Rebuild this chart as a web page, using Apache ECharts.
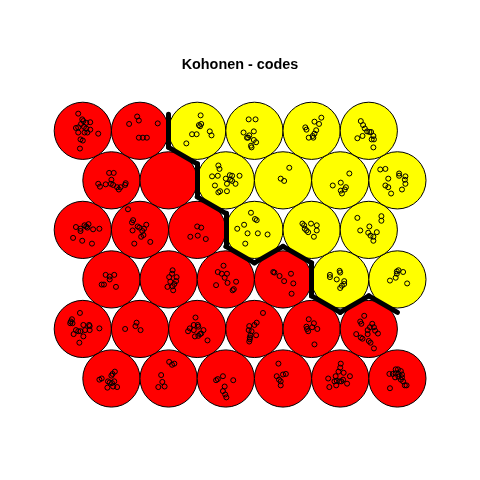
<!DOCTYPE html>
<html><head><meta charset="utf-8">
<script src="https://cdn.jsdelivr.net/npm/echarts@6/dist/echarts.min.js"></script>
<style>html,body{margin:0;padding:0;background:#fff}#c{width:480px;height:480px}</style>
</head><body><div id="c"></div>
<script>
const chartTitle = 'Kohonen - codes';
const xdim = 6, ydim = 6;
// cluster of each unit; rows listed from bottom (row 1) to top (row 6), columns left to right
const clusterRow1 = [1,1,1,1,1,1];
const clusterRow2 = [1,1,1,1,1,1];
const clusterRow3 = [1,1,1,1,2,2];
const clusterRow4 = [1,1,1,2,2,2];
const clusterRow5 = [1,1,2,2,2,2];
const clusterRow6 = [1,1,2,2,2,2];
const clusterColors = ['#FF0000', '#FFFF00'];

// mapped objects per unit: [dx, dy] jitter from the unit centre (grid units)
const mappedRow6 = [
  [[-0.08,0.30],[-0.01,0.20],[0.01,0.17],[0.06,0.14],[0.13,0.15],[-0.03,0.12],[-0.12,0.05],[-0.08,0.06],[0.02,0.07],[0.06,0.04],[0.13,0.02],[-0.08,-0.03],[0.03,-0.03],[0.08,-0.03],[0.27,-0.05],[-0.04,-0.15],[0,-0.17],[-0.05,-0.31]],
  [[-0.05,0.25],[-0.02,0.18],[-0.19,0.12],[0.31,0.13],[-0.02,-0.12],[0.05,-0.12],[0.12,-0.12]],
  [[0.06,0.27],[0.03,0.10],[0.07,0.12],[0.05,0.08],[-0.09,-0.06],[-0.01,-0.06],[0.22,-0.01],[0.25,-0.08],[-0.19,-0.22]],
  [[-0.10,0.20],[0.02,0.20],[-0.19,-0.03],[-0.01,-0.01],[-0.09,-0.08],[-0.13,-0.12],[-0.11,-0.12],[-0.01,-0.16],[0.03,-0.20],[-0.06,-0.26],[-0.05,-0.29]],
  [[0.17,0.23],[0.05,0.16],[0.13,0.12],[-0.11,0.06],[-0.09,0.02],[0.08,0.01],[0.05,-0.05],[0.02,-0.09],[-0.05,-0.12],[0.03,-0.12]],
  [[-0.14,0.17],[-0.10,0.10],[-0.07,0.04],[-0.03,-0.01],[0.01,-0.02],[0.04,-0.02],[-0.11,-0.09],[-0.20,-0.13],[0.08,-0.09],[0.05,-0.15],[0.09,-0.15],[0.08,-0.29]]
];
const mappedRow5 = [
  [[-0.04,0.13],[0.04,0.13],[0,0.01],[-0.23,-0.06],[-0.20,-0.11],[-0.10,-0.07],[-0.01,-0.06],[0.03,-0.08],[0.10,-0.12],[0.13,-0.16],[0.16,-0.12],[0.25,-0.05],[0.24,-0.08]],
  [],
  [[-0.13,0.26],[-0.11,0.20],[-0.24,0.07],[-0.14,0.08],[0.07,0.09],[0.11,0.08],[0,0.03],[0.08,0.01],[0.11,-0.01],[0.24,0.08],[0.02,-0.06],[0.17,-0.06],[-0.19,-0.09],[-0.10,-0.19],[-0.13,-0.21],[0.02,-0.19]],
  [[0.11,0.22],[-0.04,0.03],[0.02,-0.01]],
  [[0.16,0.12],[0.01,-0.04],[-0.13,-0.09],[0.10,-0.12],[0.08,-0.16],[0.01,-0.18],[0.03,-0.23]],
  [[-0.30,0.19],[-0.21,0.20],[0.03,0.12],[0.03,0.08],[0.14,0.07],[0.13,0.01],[0.14,-0.06],[-0.16,0.03],[-0.21,-0.09],[-0.16,-0.12],[-0.11,-0.23],[0.08,-0.16]]
];
const mappedRow4 = [
  [[-0.12,0.05],[-0.04,0.02],[-0.04,-0.02],[0.03,0.08],[0.06,0.06],[0.10,0.10],[0.08,0.04],[0.18,0.01],[0.29,0.02],[-0.17,-0.14],[-0.01,-0.19],[0.16,-0.24]],
  [[-0.21,0.36],[-0.12,0.17],[-0.14,0.13],[-0.04,0.06],[-0.01,0.04],[0.11,0.09],[-0.13,-0.01],[0.04,-0.02],[0.07,0.02],[0.06,-0.09],[0.02,-0.12],[-0.10,-0.24],[0.18,-0.21]],
  [[0,0.06],[0.07,0.04],[0.01,-0.10],[-0.12,-0.12],[0.15,-0.16]],
  [[-0.06,0.30],[0.01,0.19],[0.04,0.17],[-0.18,0.09],[-0.30,0.02],[-0.12,-0.06],[0.06,-0.06],[0.23,-0.08],[-0.16,-0.24]],
  [[-0.16,0.11],[-0.13,0.08],[-0.12,0.02],[-0.09,-0.01],[-0.06,-0.04],[-0.01,0.11],[0.09,0.08],[0.09,-0.01],[0.04,-0.12]],
  [[-0.20,0.21],[0.22,0.24],[0.22,0.16],[0.01,0.06],[-0.15,-0.01],[-0.01,-0.05],[0.03,-0.10],[0.08,-0.12],[0.08,-0.19],[0.14,-0.04]]
];
const mappedRow3 = [
  [[-0.10,0.08],[-0.03,0.05],[0.05,0.08],[-0.03,0],[-0.17,-0.09],[-0.13,-0.09],[0.08,-0.13]],
  [[0.07,0.16],[0.06,0.10],[0.01,0.04],[0.14,0.04],[0.03,-0.04],[0.13,-0.03],[0.10,-0.08],[-0.02,-0.13],[0.07,-0.12],[0.08,-0.19]],
  [[-0.04,0.24],[-0.14,0.13],[-0.07,0.10],[0.02,0.10],[-0.02,0.03],[0.03,-0.06],[0.18,-0.04],[-0.17,-0.10],[0.14,-0.17],[0.12,-0.19]],
  [[-0.17,0.13],[-0.15,0.12],[-0.06,0.06],[0.02,-0.03],[0.14,0.10],[0.18,-0.07],[0.15,-0.25]],
  [[-0.18,0.08],[-0.18,0.04],[-0.01,0.15],[0,0.12],[-0.06,0],[0.07,-0.03],[0.07,-0.08],[0.03,-0.11],[0,-0.15]],
  [[-0.01,0.14],[0.02,0.16],[0.10,0.13],[-0.01,0.10],[-0.03,0.03],[-0.13,-0.02],[0.17,-0.07]]
];
const mappedRow2 = [
  [[-0.05,0.28],[-0.19,0.17],[-0.21,0.13],[-0.22,0.10],[-0.18,0.10],[0.01,0.07],[0.11,0.07],[0.12,0.05],[-0.12,-0.02],[-0.08,-0.04],[-0.04,-0.04],[0.04,-0.02],[0.12,-0.02],[-0.16,-0.09],[0.01,-0.13],[0.29,0.01],[-0.06,-0.24]],
  [[-0.06,0.11],[-0.08,0.05],[-0.26,0],[0.01,-0.02]],
  [[-0.03,0.20],[-0.06,0.07],[0.01,0.07],[0.02,0.04],[-0.13,0.01],[-0.16,-0.04],[-0.06,-0.02],[0.11,-0.02],[0.05,-0.09],[0.07,-0.08],[-0.04,-0.13],[0.02,-0.12],[0.18,-0.20]],
  [[0.15,0.28],[0.04,0.11],[0,0.07],[-0.09,0.05],[-0.10,-0.02],[-0.05,-0.04],[0.03,-0.11],[-0.07,-0.11],[-0.08,-0.15],[-0.08,-0.18],[-0.09,-0.22]],
  [[-0.05,0.17],[0.04,0.10],[-0.09,0.04],[-0.08,0],[-0.06,-0.04],[0.01,0.03],[0.10,0],[0.05,-0.27]],
  [[-0.08,0.23],[-0.15,0.13],[-0.13,0.09],[0.06,0.09],[0.02,0.03],[0.09,0.03],[0.11,-0.03],[0.16,-0.08],[-0.02,-0.02],[-0.22,-0.09],[-0.14,-0.15],[-0.11,-0.17],[-0.02,-0.09],[0,-0.21],[0.03,-0.24],[0.09,-0.34]]
];
const mappedRow1 = [
  [[0.06,0.12],[0.02,0.08],[0,0.05],[-0.21,-0.02],[-0.17,0],[-0.06,-0.05],[-0.03,-0.07],[0.01,-0.08],[0.05,-0.05],[-0.07,-0.16],[0.03,-0.14],[0.10,-0.15]],
  [[0.01,0.29],[0.06,0.24],[0.10,0.26],[-0.13,0.06],[-0.11,-0.06],[-0.18,-0.15],[-0.07,-0.14]],
  [[-0.05,0.04],[-0.17,-0.03],[-0.14,-0.01],[0.13,-0.03],[-0.02,-0.14],[-0.05,-0.22],[-0.01,-0.28],[0.01,-0.33]],
  [[-0.08,0.26],[-0.11,0.04],[-0.07,-0.02],[0,0.07],[0.05,0.08],[-0.04,-0.05],[-0.04,-0.12]],
  [[0.01,0.26],[0,0.19],[-0.03,0.12],[0.06,0.10],[-0.08,0.04],[-0.21,0],[0.17,0.04],[-0.10,-0.05],[-0.06,-0.04],[-0.01,-0.05],[0.02,-0.05],[0.05,-0.02],[0.12,-0.09],[-0.07,-0.12],[-0.19,-0.15]],
  [[-0.03,0.16],[0.01,0.16],[0.06,0.13],[-0.14,0.08],[-0.08,0.08],[-0.03,0.09],[0.02,0.08],[0.08,0.07],[-0.04,0.02],[0.02,0.03],[0.08,0.02],[0.06,-0.02],[0.10,-0.05],[0.13,-0.12],[0.16,-0.12],[-0.13,-0.17]]
];

const clusterRows = [clusterRow1, clusterRow2, clusterRow3, clusterRow4, clusterRow5, clusterRow6];
const mappedRows = [mappedRow1, mappedRow2, mappedRow3, mappedRow4, mappedRow5, mappedRow6];

// hexagonal grid geometry (unit spacing 1, odd rows shifted by half a unit)
const H = Math.sqrt(3) / 2;
const units = [];
for (let r = 1; r <= ydim; r++) {
  for (let c = 1; c <= xdim; c++) {
    units.push({x: c + (r % 2 === 1 ? 0.5 : 0), y: r * H, cl: clusterRows[r-1][c-1], pts: mappedRows[r-1][c-1]});
  }
}
const unitData = units.map(u => ({value: [u.x, u.y], itemStyle: {color: clusterColors[u.cl - 1]}}));
const pointData = [];
units.forEach(u => u.pts.forEach(p => pointData.push([u.x + p[0], u.y + p[1]])));

// cluster boundaries: shared hexagon edge between neighbouring units of different clusters
const half = 0.5 / Math.sqrt(3);
const segs = [];
for (let i = 0; i < units.length; i++) {
  for (let j = i + 1; j < units.length; j++) {
    const a = units[i], b = units[j];
    const dx = b.x - a.x, dy = b.y - a.y, d = Math.hypot(dx, dy);
    if (d < 1.01 && a.cl !== b.cl) {
      const mx = (a.x + b.x) / 2, my = (a.y + b.y) / 2;
      const px = -dy / d, py = dx / d;
      segs.push({coords: [[mx - px * half, my - py * half], [mx + px * half, my + py * half]]});
    }
  }
}

const xMin = -0.4476, xMax = 7.944, yMin = -0.9085, yMax = 7.4831;
const unitPx = 480 / (xMax - xMin);

const chart = echarts.init(document.getElementById('c'), null, {renderer: 'canvas'});
chart.setOption({
  backgroundColor: '#ffffff',
  animation: false,
  title: {text: chartTitle, left: 'center', top: 53,
    textStyle: {fontFamily: 'Liberation Sans, Arial, sans-serif', fontWeight: 'bold', fontSize: 14.4, color: '#000'}},
  grid: {left: 0, top: 0, width: 480, height: 480},
  xAxis: {type: 'value', min: xMin, max: xMax, show: false},
  yAxis: {type: 'value', min: yMin, max: yMax, show: false},
  series: [
    {type: 'scatter', data: unitData, symbol: 'circle', symbolSize: unitPx, silent: true, z: 1,
      itemStyle: {borderColor: '#000', borderWidth: 1, opacity: 1}},
    {type: 'scatter', data: pointData, symbol: 'circle', symbolSize: 5, silent: true, z: 2,
      itemStyle: {color: 'rgba(0,0,0,0)', borderColor: '#000', borderWidth: 1, opacity: 1}},
    {type: 'lines', coordinateSystem: 'cartesian2d', data: segs, silent: true, z: 3,
      lineStyle: {color: '#000', width: 5, cap: 'round', join: 'round', opacity: 1, curveness: 0}}
  ]
});
</script></body></html>
